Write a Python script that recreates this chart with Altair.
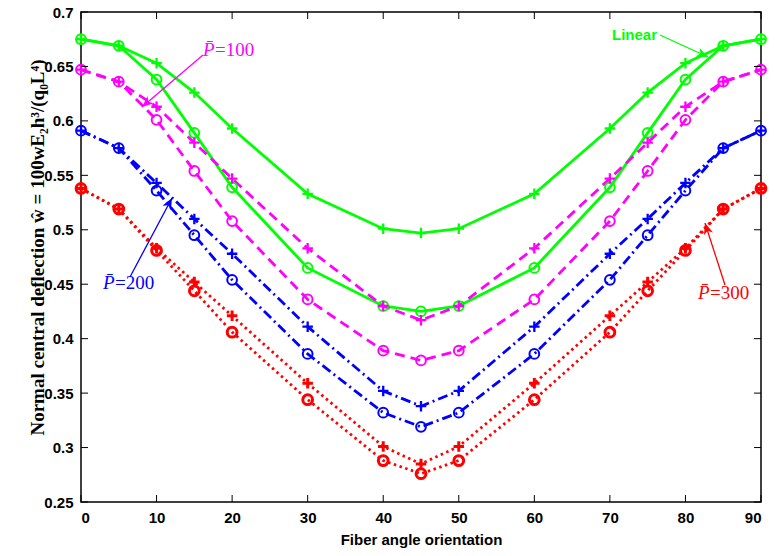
import math
import altair as alt
import pandas as pd

# ---------------- data ----------------
angles = [0, 5, 10, 15, 20, 30, 40, 45, 50, 60, 70, 75, 80, 85, 90]

green_plus = [0.675, 0.669, 0.653, 0.626, 0.593, 0.533, 0.501, 0.497, 0.501, 0.533, 0.593, 0.626, 0.653, 0.669, 0.675]
green_o = [0.675, 0.669, 0.638, 0.589, 0.539, 0.465, 0.430, 0.425, 0.430, 0.465, 0.539, 0.589, 0.638, 0.669, 0.675]
magenta_plus = [0.647, 0.636, 0.613, 0.580, 0.547, 0.483, 0.430, 0.417, 0.430, 0.483, 0.547, 0.580, 0.613, 0.636, 0.647]
magenta_o = [0.647, 0.636, 0.601, 0.554, 0.508, 0.436, 0.389, 0.380, 0.389, 0.436, 0.508, 0.554, 0.601, 0.636, 0.647]
blue_plus = [0.591, 0.575, 0.543, 0.510, 0.478, 0.411, 0.352, 0.338, 0.352, 0.411, 0.478, 0.510, 0.543, 0.575, 0.591]
blue_o = [0.591, 0.575, 0.536, 0.495, 0.454, 0.386, 0.332, 0.319, 0.332, 0.386, 0.454, 0.495, 0.536, 0.575, 0.591]
red_plus = [0.538, 0.519, 0.483, 0.452, 0.421, 0.359, 0.301, 0.285, 0.301, 0.359, 0.421, 0.452, 0.483, 0.519, 0.538]
red_o = [0.538, 0.519, 0.481, 0.444, 0.406, 0.344, 0.288, 0.276, 0.288, 0.344, 0.406, 0.444, 0.481, 0.519, 0.538]

x_ticks = [0, 10, 20, 30, 40, 50, 60, 70, 80, 90]
y_ticks = [0.25, 0.3, 0.35, 0.4, 0.45, 0.5, 0.55, 0.6, 0.65, 0.7]

x_title = "Fiber angle orientation"
y_title = "Normal central deflection w\u0302 = 100wE\u2082h\u00b3/(q\u2080L\u2074)"

# ---------------- layout / style ----------------
W, H = 680, 490
GREEN, MAGENTA, BLUE, RED = "#00ff00", "#ff00ff", "#0000ff", "#ff0000"
SANS = "Liberation Sans, Arial, Helvetica, sans-serif"
SERIF = "Liberation Serif, DejaVu Serif, Times New Roman, serif"
PLUS = "M-1,0L1,0M0,-1L0,1"
HEAD = "M0,0L-1,-0.42L-0.72,0L-1,0.42Z"

xs = alt.Scale(domain=[0, 90], nice=False, zero=False)
ys = alt.Scale(domain=[0.25, 0.7], nice=False, zero=False)

xaxis = alt.Axis(values=x_ticks, tickSize=0, domain=False, grid=False,
                 labelFont=SANS, labelFontWeight="bold", labelFontSize=15,
                 labelColor="black", labelPadding=8,
                 title=x_title, titleFont=SANS, titleFontWeight="bold",
                 titleFontSize=15, titleColor="black",
                 titleX=W / 2, titleY=37, titleBaseline="middle")
yaxis = alt.Axis(values=y_ticks, tickSize=0, domain=False, grid=False,
                 format=".2~f", labelFont=SANS, labelFontWeight="bold",
                 labelFontSize=15, labelColor="black", labelPadding=8,
                 title=y_title, titleFont=SERIF, titleFontWeight="bold",
                 titleFontSize=19, titleColor="black",
                 titleX=-38, titleY=235, titleAngle=270,
                 titleAlign="center", titleBaseline="alphabetic")

X = alt.X("x:Q", scale=xs, axis=xaxis)
Y = alt.Y("y:Q", scale=ys, axis=yaxis)

series = [
    (green_plus, GREEN, None, "plus", 2.3),
    (green_o, GREEN, None, "circle", 2.0),
    (magenta_plus, MAGENTA, [10, 6], "plus", 2.3),
    (magenta_o, MAGENTA, [10, 6], "circle", 2.0),
    (blue_plus, BLUE, [10, 4, 2, 4], "plus", 2.3),
    (blue_o, BLUE, [10, 4, 2, 4], "circle", 2.0),
    (red_plus, RED, [2.5, 3.5], "plus", 3.0),
    (red_o, RED, [2.5, 3.5], "circle", 3.0),
]

layers = []
for vals, col, dash, mk, sw in series:
    df = pd.DataFrame({"x": angles, "y": vals})
    lkw = dict(color=col, strokeWidth=2.8, strokeCap="butt")
    if dash:
        lkw["strokeDash"] = dash
    layers.append(alt.Chart(df).mark_line(**lkw).encode(x=X, y=Y))
for vals, col, dash, mk, sw in series:
    df = pd.DataFrame({"x": angles, "y": vals})
    if mk == "plus":
        m = alt.Chart(df).mark_point(shape=PLUS, size=110, filled=False,
                                     color=col, strokeWidth=sw, opacity=1)
    else:
        m = alt.Chart(df).mark_point(shape="circle", size=95, filled=False,
                                     color=col, strokeWidth=sw, opacity=1)
    layers.append(m.encode(x=X, y=Y))

# inward box ticks
tx = pd.DataFrame({"x": x_ticks})
ty = pd.DataFrame({"y": y_ticks})
layers.append(alt.Chart(tx).mark_rule(color="black", strokeWidth=1).encode(
    x=X, y=alt.value(H), y2=alt.value(H - 7)))
layers.append(alt.Chart(tx).mark_rule(color="black", strokeWidth=1).encode(
    x=X, y=alt.value(0), y2=alt.value(7)))
layers.append(alt.Chart(ty).mark_rule(color="black", strokeWidth=1).encode(
    y=Y, x=alt.value(0), x2=alt.value(7)))
layers.append(alt.Chart(ty).mark_rule(color="black", strokeWidth=1).encode(
    y=Y, x=alt.value(W), x2=alt.value(W - 7)))

# annotations: arrows (pixel coords in plot area)
arrows = [
    ((579, 23), (627, 45), GREEN),
    ((122, 43), (61, 95), MAGENTA),
    ((49, 265), (91, 186), BLUE),
    ((644, 273), (624, 211), RED),
]
one = pd.DataFrame({"a": [0]})
for (x1, y1), (x2, y2), col in arrows:
    ang = math.degrees(math.atan2(y2 - y1, x2 - x1)) % 360
    layers.append(alt.Chart(one).mark_rule(color=col, strokeWidth=1.3).encode(
        x=alt.value(x1), y=alt.value(y1), x2=alt.value(x2), y2=alt.value(y2)))
    layers.append(alt.Chart(one).mark_point(shape=HEAD, size=520, filled=True,
                                            color=col, opacity=1, strokeWidth=0).encode(
        x=alt.value(x2), y=alt.value(y2), angle=alt.value(ang)))

# annotation texts
layers.append(alt.Chart(pd.DataFrame({"t": ["Linear"]})).mark_text(
    font=SANS, fontWeight="bold", fontSize=15, color=GREEN, align="left",
    baseline="middle").encode(x=alt.value(531), y=alt.value(23), text="t:N"))

plabels = [("=100", MAGENTA, 122, 38), ("=200", BLUE, 22, 271), ("=300", RED, 617, 281)]
for txt, col, px, py in plabels:
    layers.append(alt.Chart(pd.DataFrame({"t": ["P\u0304"]})).mark_text(
        font=SERIF, fontStyle="italic", fontSize=19, color=col, align="left",
        baseline="middle").encode(x=alt.value(px), y=alt.value(py), text="t:N"))
    layers.append(alt.Chart(pd.DataFrame({"t": [txt]})).mark_text(
        font=SERIF, fontSize=19, color=col, align="left",
        baseline="middle").encode(x=alt.value(px + 12), y=alt.value(py), text="t:N"))

chart = alt.layer(*layers).properties(
    width=W, height=H,
    autosize=alt.AutoSizeParams(type="none"),
    padding={"left": 81, "top": 12, "right": 14, "bottom": 54},
    background="white",
).configure_view(stroke="black", strokeWidth=1.5)

chart.save("out.html", embed_options={"renderer": "svg", "actions": False})
